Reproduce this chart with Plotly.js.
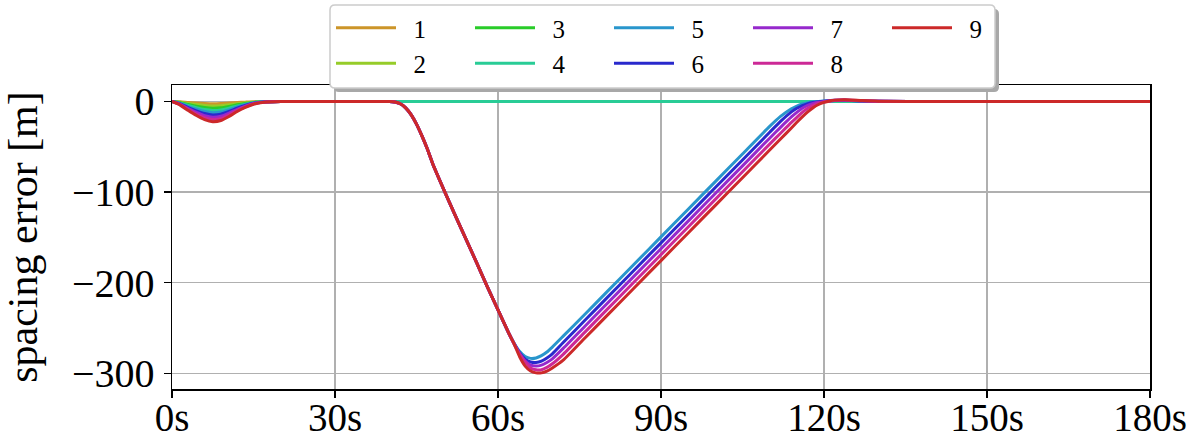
<!DOCTYPE html>
<html>
<head>
<meta charset="utf-8">
<script src="https://cdn.plot.ly/plotly-3.0.1.min.js"></script>
<style>
  html, body { margin: 0; padding: 0; background: #fff; }
  #chart { width: 1200px; height: 443px; }
</style>
</head>
<body>
<div id="chart"></div>
<script>
// ---------- data ----------
const seriesNames = ['1', '2', '3', '4', '5', '6', '7', '8', '9'];
const seriesColors = ['#cc9529', '#96cc29', '#29cc29', '#29cc96', '#2996cc', '#2929cc', '#9629cc', '#cc2996', '#cc2929'];

// initial transient (seconds)
const timeEarly = [0, 1.5, 3, 4.5, 6, 7.5, 9, 10.5, 12, 13.5, 15, 17, 20];
const dip1 = [0, -0.4, -1.1, -1.7, -2.2, -2.5, -2.3, -1.8, -1.2, -0.7, -0.3, -0.1, 0];
const dip2 = [0, -0.9, -2.2, -3.4, -4.4, -5.0, -4.7, -3.7, -2.4, -1.4, -0.7, -0.2, 0];
const dip3 = [0, -1.3, -3.3, -5.2, -6.7, -7.4, -7.0, -5.5, -3.7, -2.2, -1.0, -0.3, 0];
const dip4 = [0, -1.8, -4.4, -6.9, -8.9, -9.9, -9.3, -7.3, -4.9, -2.9, -1.3, -0.4, 0];
const dip5 = [0, -2.2, -5.6, -8.6, -11.1, -12.4, -11.7, -9.2, -6.1, -3.6, -1.7, -0.4, 0];
const dip6 = [0, -2.7, -6.7, -10.3, -13.3, -14.9, -14.0, -11.0, -7.3, -4.3, -2.0, -0.5, 0];
const dip7 = [0, -3.1, -7.8, -12.1, -15.6, -17.3, -16.3, -12.8, -8.6, -5.1, -2.3, -0.6, 0];
const dip8 = [0, -3.6, -8.9, -13.8, -17.8, -19.8, -18.7, -14.7, -9.8, -5.8, -2.7, -0.7, 0];
const dip9 = [0, -4.0, -10.0, -15.5, -20.0, -22.3, -21.0, -16.5, -11.0, -6.5, -3.0, -0.8, 0];

// vehicles 1-4 stay on target after the transient
const timeFlatEnd = [180];
const flatEnd = [0];

// large disturbance (seconds)
const timeLate = [30, 40, 41, 42, 43, 44, 45, 46, 47, 48, 50, 52, 54, 56, 58, 60,
  62, 63, 64, 65, 66, 67, 68, 69, 70, 72, 76, 80, 85, 90, 95, 100, 105, 110,
  112, 114, 115, 116, 117, 118, 119, 120, 121, 122, 124, 127, 130, 140, 180];
const fallShared = [0, 0, -0.5, -2.5, -7, -14.5, -25, -38, -52.5, -69, -97, -124, -150.5, -177, -204, -230];
const recover5 = [-256, -267, -276, -281.5, -283.5, -283, -280.5, -276.5, -271, -259, -234.8, -210.4, -179.9, -149.4, -118.9, -88.4, -57.9, -27.5,
  -16.5, -8, -5, -2.8, -1.3, -0.4, 0.1, 0.6, 1.0, 1.2, 1.1, 0.5, 0.2, 0, 0];
const recover6 = [-256, -267.5, -277.5, -284.5, -287.5, -288, -286.5, -283, -278.5, -266, -241.5, -217, -186.5, -156, -125.5, -95, -64.5, -34,
  -22, -11.5, -7.5, -4.5, -2.3, -1.0, -0.2, 0.4, 0.9, 1.3, 1.3, 0.6, 0.2, 0, 0];
const recover7 = [-256, -268, -278.5, -286.5, -291, -292, -291, -288, -284, -272.5, -248, -223.5, -193, -162.5, -132, -101.5, -71, -40.5,
  -28.5, -17, -12, -7.5, -4.3, -2.2, -0.9, -0.1, 0.6, 1.2, 1.5, 0.8, 0.3, 0, 0];
const recover8 = [-256, -268, -279, -287.5, -294, -296, -296, -293.5, -289.5, -279, -254.5, -230, -199.5, -169, -138.5, -108, -77.5, -47,
  -35, -23, -17.5, -12, -7.5, -4.2, -1.9, -0.5, 0.5, 1.3, 1.6, 0.9, 0.3, 0, 0];
const recover9 = [-256, -268, -282, -292, -297.5, -299.5, -299.5, -297.5, -294, -285.4, -261, -236.6, -206.1, -175.6, -145.1, -114.6, -84.1, -53.6,
  -41.4, -29.2, -23, -17, -11.5, -6.8, -3.3, -1.0, 0.6, 1.5, 1.8, 1.0, 0.4, 0, 0];

const xTickVals = [0, 30, 60, 90, 120, 150, 180];
const xTickText = ['0s', '30s', '60s', '90s', '120s', '150s', '180s'];
const yTickVals = [0, -100, -200, -300];
const yTitle = 'spacing error [m]';

// ---------- traces ----------
const dips = [dip1, dip2, dip3, dip4, dip5, dip6, dip7, dip8, dip9];
const recovers = [null, null, null, null, recover5, recover6, recover7, recover8, recover9];
const groups = ['g1', 'g1', 'g2', 'g2', 'g3', 'g3', 'g4', 'g4', 'g5'];

const traces = seriesNames.map((name, i) => {
  let x, y;
  if (recovers[i]) {
    x = timeEarly.concat(timeLate);
    y = dips[i].concat(fallShared, recovers[i]);
  } else {
    x = timeEarly.concat(timeFlatEnd);
    y = dips[i].concat(flatEnd);
  }
  return {
    type: 'scatter', mode: 'lines',
    name: '\u2002' + name,
    x: x, y: y,
    legendgroup: groups[i],
    line: { color: seriesColors[i], width: 3, shape: 'spline', smoothing: 0.6 },
    hoverinfo: 'skip'
  };
});

// ---------- layout helpers (pixel -> paper) ----------
const M = { l: 172, r: 50, t: 85, b: 54 };
const W = 1200, H = 443;
const PW = W - M.l - M.r, PH = H - M.t - M.b;
const px = v => (v - M.l) / PW;
const py = v => (H - M.b - v) / PH;
function roundRect(x0, y0, x1, y1, r) {
  const rx = r / PW, ry = r / PH;
  const X0 = px(x0), X1 = px(x1), Y0 = py(y0), Y1 = py(y1); // Y0 top, Y1 bottom
  return `M${X0 + rx},${Y0} L${X1 - rx},${Y0} Q${X1},${Y0} ${X1},${Y0 - ry} ` +
         `L${X1},${Y1 + ry} Q${X1},${Y1} ${X1 - rx},${Y1} L${X0 + rx},${Y1} ` +
         `Q${X0},${Y1} ${X0},${Y1 + ry} L${X0},${Y0 - ry} Q${X0},${Y0} ${X0 + rx},${Y0} Z`;
}

const font = 'Liberation Serif, Times New Roman, serif';

const layout = {
  width: W, height: H,
  margin: { l: M.l, r: M.r, t: M.t, b: M.b, autoexpand: false },
  paper_bgcolor: '#fff', plot_bgcolor: '#fff',
  font: { family: font, color: '#000' },
  showlegend: true,
  xaxis: {
    range: [0, 180], tickvals: xTickVals, ticktext: xTickText,
    showgrid: true, gridcolor: '#b0b0b0', gridwidth: 1.5,
    zeroline: false, showline: true, linecolor: '#000', linewidth: 1.5, mirror: true,
    ticks: 'outside', ticklen: 7, tickwidth: 1.5, tickcolor: '#000',
    ticklabelstandoff: -13,
    tickfont: { family: font, size: 39, color: '#000' }
  },
  yaxis: {
    range: [-317.3, 18.2], tickvals: yTickVals,
    showgrid: true, gridcolor: '#b0b0b0', gridwidth: 1.5,
    zeroline: false, showline: true, linecolor: '#000', linewidth: 1.5, mirror: true,
    ticks: 'outside', ticklen: 7, tickwidth: 1.5, tickcolor: '#000',
    ticklabelstandoff: 1,
    tickfont: { family: font, size: 40, color: '#000' },
    title: { text: yTitle, standoff: 30, font: { family: font, size: 42, color: '#000' } }
  },
  legend: {
    orientation: 'h', traceorder: 'grouped',
    x: px(331), xanchor: 'left', y: py(5), yanchor: 'top',
    bgcolor: 'rgba(0,0,0,0)', borderwidth: 0,
    font: { family: font, size: 25, color: '#000' },
    itemwidth: 60, entrywidth: 64, tracegroupgap: 0
  },
  shapes: [
    { type: 'path', xref: 'paper', yref: 'paper', layer: 'above',
      path: roundRect(334, 9, 999, 92, 5), fillcolor: '#a8a8a8', line: { width: 0 } },
    { type: 'path', xref: 'paper', yref: 'paper', layer: 'above',
      path: roundRect(330, 5, 995, 88, 5), fillcolor: '#ffffff', line: { color: '#cccccc', width: 1.5 } }
  ]
};

Plotly.newPlot('chart', traces, layout, { staticPlot: true, displayModeBar: false });
</script>
</body>
</html>
